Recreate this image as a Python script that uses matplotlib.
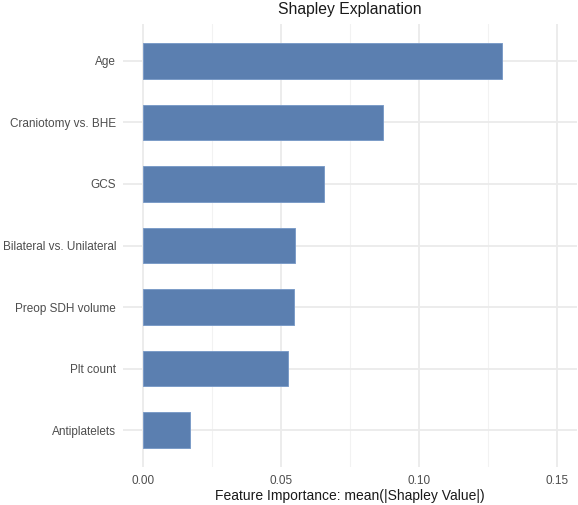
import matplotlib
matplotlib.use("Agg")
import matplotlib.pyplot as plt
from matplotlib.ticker import MultipleLocator

plt.rcParams['font.family'] = ['Liberation Sans', 'DejaVu Sans']

# features from top to bottom, with mean(|shap|)
features = ["Age", "Craniotomy vs. BHE", "GCS", "Bilateral vs. Unilateral",
            "Preop SDH volume", "Plt count", "Antiplatelets"]
importance = [0.1302, 0.0872, 0.0657, 0.0553, 0.0547, 0.0528, 0.0172]
xticks = [0.00, 0.05, 0.10, 0.15]
xtick_labels = ["0.00", "0.05", "0.10", "0.15"]

fig = plt.figure(figsize=(5.78, 5.05), dpi=100)
ax = fig.add_axes([123/578, 38/505, 454/578, 443/505])

ypos = list(range(len(features)))[::-1]
ax.barh(ypos, importance, height=0.58, color="#5B7FB0",
        edgecolor="#7C9CC8", linewidth=0.7, zorder=3)

ax.set_xlim(-0.0071, 0.1574)
ax.set_ylim(-0.6, len(features) - 1 + 0.6)

ax.set_xticks(xticks)
ax.set_xticklabels(xtick_labels)
ax.xaxis.set_minor_locator(MultipleLocator(0.025))
ax.set_yticks(ypos)
ax.set_yticklabels(features)

ax.grid(True, which="major", color="#EBEBEB", linewidth=1.3, zorder=0)
ax.grid(True, which="minor", axis="x", color="#F2F2F2", linewidth=0.8, zorder=0)
ax.set_axisbelow(True)
for s in ax.spines.values():
    s.set_visible(False)
ax.tick_params(which="both", length=0, labelsize=8.5, labelcolor="#4D4D4D")
ax.tick_params(axis="y", pad=5)
ax.tick_params(axis="x", pad=6)

ax.set_xlabel("Feature Importance: mean(|Shapley Value|)", fontsize=10,
              color="#1A1A1A", labelpad=1.5)
ax.set_title("Shapley Explanation", fontsize=11.3, color="#1A1A1A", pad=7)

fig.savefig("out.png", dpi=100, facecolor="white")
